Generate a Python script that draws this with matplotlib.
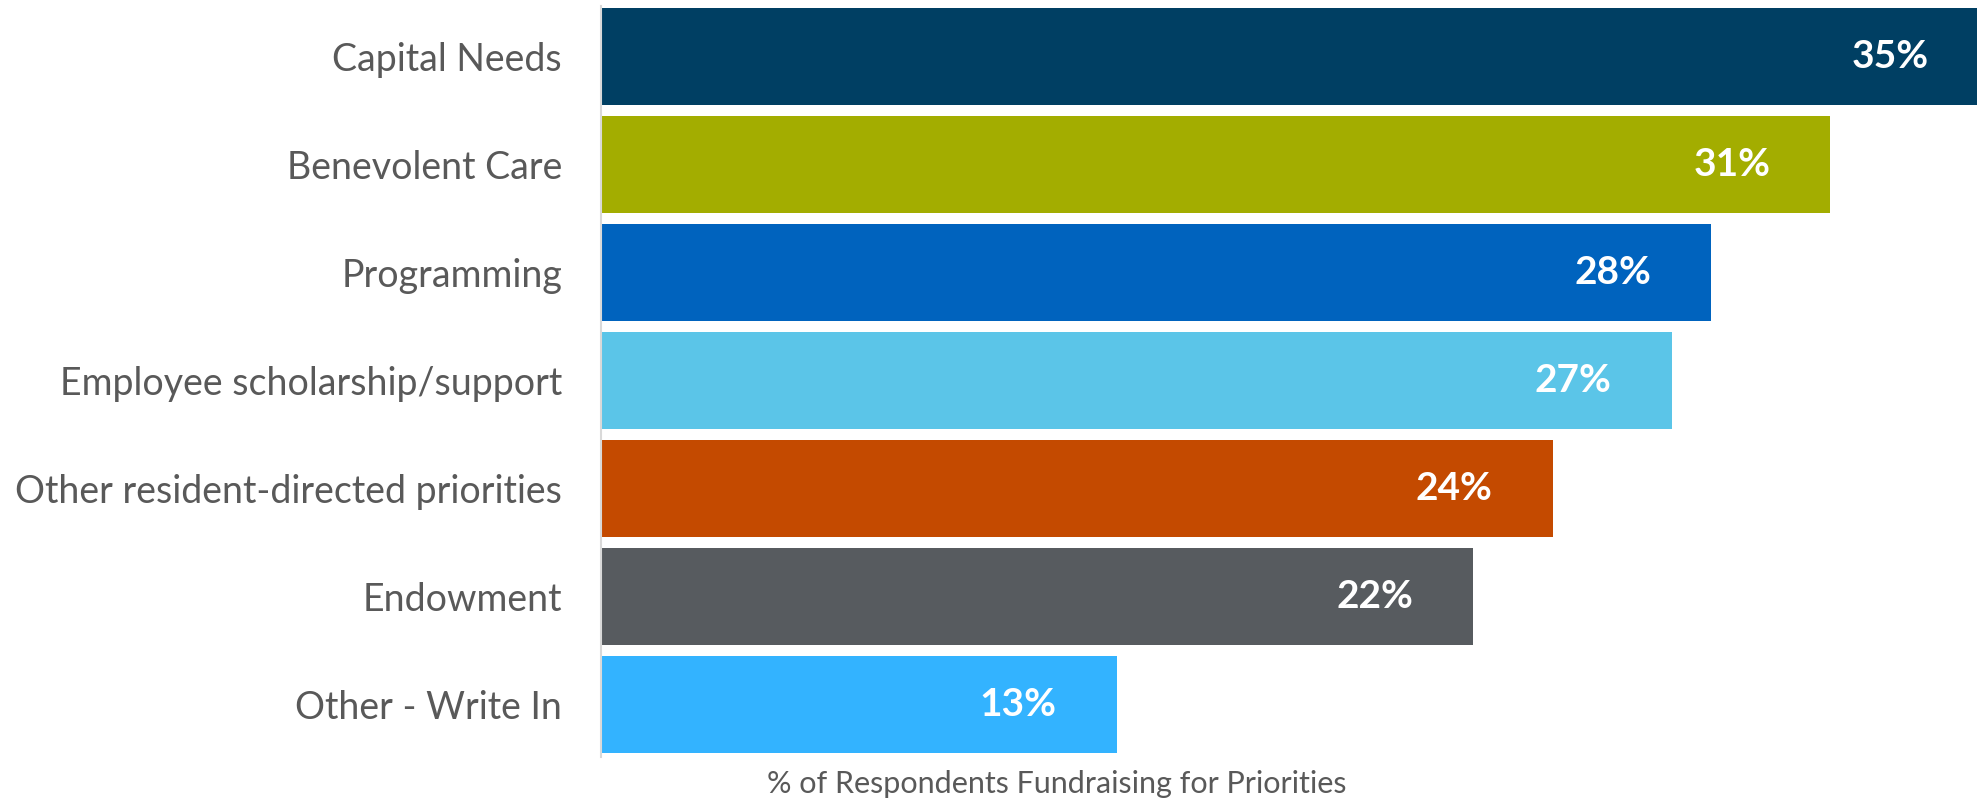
import matplotlib
matplotlib.use("Agg")
import matplotlib.pyplot as plt

categories = ["Capital Needs", "Benevolent Care", "Programming",
              "Employee scholarship/support", "Other resident-directed priorities",
              "Endowment", "Other - Write In"]
values = [35, 31, 28, 27, 24, 22, 13]
colors = ["#003F63", "#A3AD00", "#0063BE", "#5BC5E8", "#C44A00", "#575B5F", "#33B3FF"]
xlabel = "% of Respondents Fundraising for Priorities"

plt.rcParams['font.family'] = ['Lato', 'DejaVu Sans']

fig = plt.figure(figsize=(19.77, 7.99), dpi=100)
ax = fig.add_axes([601/1977, 42/799, 1 - 601/1977, (757-6)/799])

y = list(range(len(categories)))
ax.barh(y, values, height=0.9, color=colors)
ax.set_ylim(6.49, -0.47)
ax.set_xlim(0, 34.7)

for yi, v in zip(y, values):
    ax.annotate(f"{v}%", xy=(v, yi), xytext=(-60, 0), textcoords="offset pixels",
                ha="right", va="center", color="white", fontsize=28, fontweight="bold",
                annotation_clip=False, clip_on=True)

ax.set_yticks(y)
ax.set_yticklabels(categories, fontsize=27, color="#595959")
ax.tick_params(axis='y', length=0, pad=28)
ax.set_xticks([])
for s in ["top", "right", "bottom"]:
    ax.spines[s].set_visible(False)
ax.spines["left"].set_color("#D9D9D9")
ax.spines["left"].set_linewidth(1.5)

fig.text(1057/1977, 15/799, xlabel, ha="center", va="center", fontsize=22, color="#595959")

fig.savefig("out.png", dpi=100)
